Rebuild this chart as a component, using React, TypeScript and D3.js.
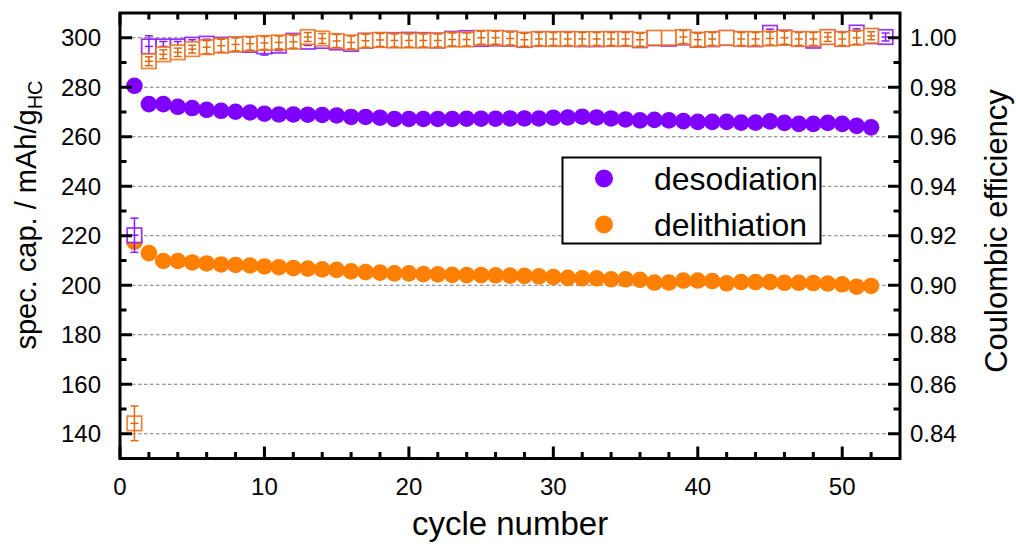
import React from "react";
import * as d3 from "d3";

// ---------- data ----------
const desodiationCap = [
  280.6, 273.2, 273.2, 272.1, 271.6, 270.9, 270.5, 270.1, 269.8, 269.3,
  269.0, 269.0, 268.9, 268.8, 268.6, 268.0, 268.0, 267.7, 267.2, 267.2,
  267.2, 267.2, 267.2, 267.3, 267.3, 267.3, 267.4, 267.4, 267.4, 267.7,
  267.8, 268.1, 267.8, 267.4, 267.0, 266.6, 266.8, 266.6, 266.3, 266.0,
  266.0, 266.0, 265.7, 265.7, 266.2, 265.6, 265.2, 265.2, 265.6, 265.2,
  264.4, 263.8,
];
const delithiationCap = [
  217.5, 213.0, 209.8, 209.8, 209.2, 208.8, 208.4, 208.2, 208.0, 207.6,
  207.3, 206.9, 206.7, 206.4, 206.2, 205.6, 205.3, 205.1, 204.8, 204.8,
  204.5, 204.4, 204.2, 204.1, 204.1, 204.0, 203.9, 203.8, 203.6, 203.3,
  203.0, 202.8, 202.8, 202.4, 202.4, 202.2, 201.1, 201.1, 201.9, 201.9,
  201.7, 200.8, 201.3, 201.3, 201.3, 201.0, 201.0, 200.9, 200.7, 200.4,
  199.4, 199.7,
];
const desodiationCE = [
  0.9202, 0.9965, 0.9965, 0.9965, 0.9972, 0.9976, 0.9972, 0.9973, 0.9971, 0.9965,
  0.9968, 0.9988, 0.9984, 0.9987, 0.9981, 0.9975, 0.9988, 0.9991, 0.9991, 0.9992,
  0.9991, 0.9989, 0.9996, 0.9999, 0.9995, 0.9997, 0.9996, 0.9991, 0.9995, 0.9995,
  0.9995, 0.9994, 0.9994, 0.9995, 0.9995, 0.9990, 0.9998, 0.9996, 1.0001, 0.9991,
  0.9994, 0.9999, 0.9995, 0.9994, 1.0020, 1.0001, 0.9995, 0.9988, 1.0003, 0.9995,
  1.0021, 1.0006, 1.0003,
];
const desodiationCEErr = [
  0.0069, 0.0043, 0.0020, 0.0020, 0.0020, 0.0018, 0.0015, 0.0015, 0.0015, 0.0035,
  0.0020, 0.0015, 0.0015, 0.0015, 0.0015, 0.0015, 0.0015, 0.0015, 0.0015, 0.0015,
  0.0015, 0.0015, 0.0015, 0.0015, 0.0015, 0.0015, 0.0015, 0.0015, 0.0015, 0.0015,
  0.0015, 0.0015, 0.0015, 0.0015, 0.0015, 0.0015, 0.0015, 0.0015, 0.0015, 0.0015,
  0.0015, 0.0015, 0.0015, 0.0015, 0.0015, 0.0015, 0.0015, 0.0018, 0.0015, 0.0015,
  0.0015, 0.0015, 0.0016,
];
const delithiationCE = [
  0.8442, 0.9905, 0.9933, 0.9941, 0.9954, 0.9962, 0.9968, 0.9973, 0.9976, 0.9979,
  0.9981, 0.9984, 1.0003, 0.9997, 0.9987, 0.9981, 0.9988, 0.9991, 0.9989, 0.9989,
  0.9989, 0.9989, 0.9993, 0.9993, 1.0000, 1.0000, 0.9997, 0.9992, 0.9995, 0.9995,
  0.9995, 0.9995, 0.9995, 0.9995, 0.9995, 0.9992, 1.0000, 1.0000, 1.0003, 0.9992,
  0.9995, 1.0000, 0.9995, 0.9995, 0.9997, 1.0000, 0.9995, 0.9995, 1.0003, 0.9995,
  1.0000, 1.0008,
];
const delithiationCEErr = [
  0.0070, 0.0018, 0.0018, 0.0017, 0.0016, 0.0026, 0.0026, 0.0026, 0.0026, 0.0026,
  0.0026, 0.0026, 0.0018, 0.0020, 0.0026, 0.0026, 0.0026, 0.0026, 0.0026, 0.0026,
  0.0026, 0.0026, 0.0026, 0.0026, 0.0026, 0.0026, 0.0026, 0.0026, 0.0026, 0.0026,
  0.0026, 0.0026, 0.0026, 0.0026, 0.0026, 0.0026, 0.0, 0.0, 0.0026, 0.0026,
  0.0026, 0.0, 0.0026, 0.0026, 0.0026, 0.0026, 0.0026, 0.0026, 0.0018, 0.0026,
  0.0026, 0.0016,
];

const xMajorTicks = [0, 10, 20, 30, 40, 50];
const xMinorTicks = [2, 4, 6, 8, 12, 14, 16, 18, 22, 24, 26, 28, 32, 34, 36, 38, 42, 44, 46, 48, 52];
const yLeftMajor = [140, 160, 180, 200, 220, 240, 260, 280, 300];
const yLeftMinor = [150, 170, 190, 210, 230, 250, 270, 290];
const yRightMajor = [0.84, 0.86, 0.88, 0.9, 0.92, 0.94, 0.96, 0.98, 1.0];
const yRightMinor = [0.85, 0.87, 0.89, 0.91, 0.93, 0.95, 0.97, 0.99];

const seriesNames = ["desodiation", "delithiation"];
const PURPLE = "#7f00ff";
const ORANGE = "#ff8000";
const ORANGE_SQ = "#ec7626";
const PURPLE_SQ = "#8a1cff";
const FONT = "'Liberation Sans', Arial, Helvetica, sans-serif";

export default function App() {
  const L = 120, R = 900, T = 13, B = 458.5;
  const x = d3.scaleLinear().domain([0, 54]).range([L, R]);
  const yL = d3.scaleLinear().domain([130, 310]).range([B, T]);
  const yR = d3.scaleLinear().domain([0.83, 1.01]).range([B, T]);

  const majorLen = 12, minorLen = 6.5, tickW = 3;
  const sq = 14.5, cap = 4, r = 8.3;

  const ceMarks = (vals: number[], errs: number[], stroke: string, bar: string) =>
    vals.map((v, i) => {
      const cx = x(i + 1);
      const cy = yR(v);
      const e = errs[i];
      const y1 = yR(v + e), y2 = yR(v - e);
      return (
        <g key={i}>
          <rect x={cx - sq / 2} y={cy - sq / 2} width={sq} height={sq} fill="#fff" stroke={stroke} strokeWidth={1.7} strokeOpacity={0.9} />
          {e > 0 && (
            <g stroke={bar} strokeWidth={1.5}>
              <line x1={cx} x2={cx} y1={y1} y2={y2} />
              <line x1={cx - cap} x2={cx + cap} y1={y1} y2={y1} />
              <line x1={cx - cap} x2={cx + cap} y1={y2} y2={y2} />
              <line x1={cx - cap} x2={cx + cap} y1={cy} y2={cy} />
            </g>
          )}
        </g>
      );
    });

  return (
    <svg width={1016} height={546} style={{ position: "absolute", left: 0, top: 0, background: "#fff" }} fontFamily={FONT}>
      {/* grid */}
      {yLeftMajor.map((v) => (
        <line key={"g" + v} x1={L} x2={R} y1={yL(v)} y2={yL(v)} stroke="#7a7a7a" strokeWidth={1} strokeDasharray="3.5,2.5" />
      ))}

      {/* capacity circles */}
      {desodiationCap.map((v, i) => (
        <circle key={"p" + i} cx={x(i + 1)} cy={yL(v)} r={r} fill={PURPLE} />
      ))}
      {delithiationCap.map((v, i) => (
        <circle key={"o" + i} cx={x(i + 1)} cy={yL(v)} r={r} fill={ORANGE} />
      ))}

      {/* CE squares */}
      {ceMarks(desodiationCE, desodiationCEErr, PURPLE_SQ, PURPLE_SQ)}
      {ceMarks(delithiationCE, delithiationCEErr, ORANGE_SQ, "#e06a12")}

      {/* frame */}
      <rect x={L} y={T} width={R - L} height={B - T} fill="none" stroke="#000" strokeWidth={3} />

      {/* ticks */}
      <g stroke="#000" strokeWidth={tickW}>
        {xMajorTicks.map((v) => (
          <g key={"xm" + v}>
            <line x1={x(v)} x2={x(v)} y1={B} y2={B - majorLen} />
            <line x1={x(v)} x2={x(v)} y1={T} y2={T + majorLen} />
          </g>
        ))}
        {xMinorTicks.map((v) => (
          <g key={"xn" + v}>
            <line x1={x(v)} x2={x(v)} y1={B} y2={B - minorLen} />
            <line x1={x(v)} x2={x(v)} y1={T} y2={T + minorLen} />
          </g>
        ))}
        {yLeftMajor.map((v) => (
          <line key={"lm" + v} x1={L} x2={L + majorLen} y1={yL(v)} y2={yL(v)} />
        ))}
        {yLeftMinor.map((v) => (
          <line key={"ln" + v} x1={L} x2={L + minorLen} y1={yL(v)} y2={yL(v)} />
        ))}
        {yRightMajor.map((v) => (
          <line key={"rm" + v} x1={R} x2={R - majorLen} y1={yR(v)} y2={yR(v)} />
        ))}
        {yRightMinor.map((v) => (
          <line key={"rn" + v} x1={R} x2={R - minorLen} y1={yR(v)} y2={yR(v)} />
        ))}
      </g>

      {/* tick labels */}
      <g fontSize={24} fill="#000">
        {xMajorTicks.map((v) => (
          <text key={"xl" + v} x={x(v)} y={495} textAnchor="middle">{v}</text>
        ))}
        {yLeftMajor.map((v) => (
          <text key={"yl" + v} x={101} y={yL(v) + 8.5} textAnchor="end">{v}</text>
        ))}
        {yRightMajor.map((v) => (
          <text key={"yr" + v} x={910} y={yR(v) + 8.5} textAnchor="start">{d3.format(".2f")(v)}</text>
        ))}
      </g>

      {/* axis titles */}
      <text x={(L + R) / 2} y={535} textAnchor="middle" fontSize={33}>cycle number</text>
      <text transform="translate(36,215) rotate(-90)" textAnchor="middle" fontSize={29}>
        spec. cap. / mAh/g<tspan fontSize={20} dy={6}>HC</tspan>
      </text>
      <text transform="translate(1007,231) rotate(-90)" textAnchor="middle" fontSize={31}>Coulombic efficiency</text>

      {/* legend */}
      <rect x={562.5} y={157.5} width={258} height={86} fill="#fff" stroke="#000" strokeWidth={2} />
      {seriesNames.map((n, i) => (
        <g key={n}>
          <circle cx={604} cy={178.5 + i * 46} r={9} fill={i === 0 ? PURPLE : ORANGE} />
          <text x={654} y={190 + i * 46} fontSize={32}>{n}</text>
        </g>
      ))}
    </svg>
  );
}
